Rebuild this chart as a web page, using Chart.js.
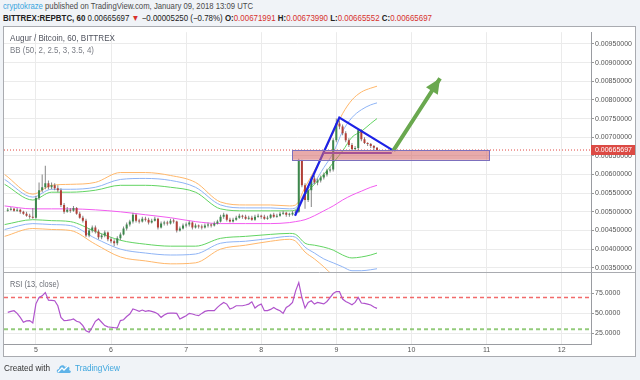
<!DOCTYPE html>
<html><head><meta charset="utf-8">
<script src="https://cdn.jsdelivr.net/npm/chart.js@4.4.1/dist/chart.umd.min.js"></script>
<style>
html,body{margin:0;padding:0}
body{width:640px;height:380px;background:#f0f3f7;position:relative;overflow:hidden;font-family:"Liberation Sans",Arial,sans-serif}
.t{position:absolute;white-space:nowrap;transform-origin:0 50%;line-height:1}
.r{color:#d7322e}
#frame{position:absolute;left:3px;top:26px;width:631px;height:329px;background:#fff;border:1px solid #a9abb0}
#cv{position:absolute;left:4px;top:27px}
</style></head><body>
<div class="t" id="h1" style="left:3px;top:2px;font-size:8.6px;color:#4a4a4a"><span style="color:#3aa6de">cryptokraze</span> published on TradingView.com, January 09, 2018 13:09 UTC</div>
<div class="t" id="h2" style="left:3px;top:13.5px;font-size:8.6px;color:#222"><b>BITTREX:REPBTC, 60</b> 0.00665697 <span class="r">▼</span> −0.00005250 (−0.78%) <b>O:</b><span class="r">0.00671991</span> <b>H:</b><span class="r">0.00673990</span> <b>L:</b><span class="r">0.00665552</span> <b>C:</b><span class="r">0.00665697</span></div>
<div id="frame"></div>
<canvas id="cv" width="631" height="329"></canvas>
<div class="t" id="ttl" style="left:10px;top:34px;font-size:8.6px;color:#50535e">Augur / Bitcoin, 60, BITTREX</div>
<div class="t" id="bb" style="left:10px;top:46px;font-size:8.6px;color:#7a7d85">BB (50, 2, 2.5, 3, 3.5, 4)</div>
<div class="t" id="rsi" style="left:10px;top:280px;font-size:8.6px;color:#6a6d75">RSI (13, close)</div>
<div class="t" id="cw" style="left:4px;top:364px;font-size:8.6px;color:#333">Created with</div>
<svg style="position:absolute;left:56px;top:362px" width="16" height="12" viewBox="0 0 16 12">
<path d="M3 11 C0 11 0 7 3 7 C3 3 8 2 9 5 C11 3 15 5 13 8 C16 9 15 11 13 11 Z" fill="#5fb3e8"/>
<path d="M2 10 L6 6 L8 8 L12 4" stroke="#fff" stroke-width="1.3" fill="none"/>
</svg>
<div class="t" id="tv" style="left:75px;top:364px;font-size:8.6px;color:#3ea6de">TradingView</div>
<script>
// ---------------- data ----------------
const firstHour = 4.625;          // Jan 4, 15:00 — first hourly candle (x in days)
const dayTicks = [5, 6, 7, 8, 9, 10, 11, 12];
const priceTicks = [0.0035, 0.004, 0.0045, 0.005, 0.0055, 0.006, 0.0065, 0.007, 0.0075, 0.008, 0.0085, 0.009, 0.0095];
const rsiTicks = [25, 50, 75];
const rsiLevels = [70, 30];
const lastPrice = 0.00665697;

const opens = [0.005026,0.005053,0.005079,0.005026,0.005053,0.005000,0.004947,0.004895,0.004868,0.004842,
0.005368,0.005579,0.005658,0.005763,0.005658,0.005711,0.005632,0.005579,0.005184,0.005000,
0.005053,0.005026,0.005105,0.004947,0.004842,0.004763,0.004368,0.004500,0.004579,0.004474,
0.004316,0.004368,0.004447,0.004263,0.004211,0.004158,0.004289,0.004395,0.004553,0.004658,
0.004737,0.004921,0.004763,0.004737,0.004816,0.004789,0.004711,0.004763,0.004816,0.004579,
0.004684,0.004711,0.004684,0.004763,0.004737,0.004500,0.004553,0.004632,0.004658,0.004711,
0.004579,0.004632,0.004605,0.004579,0.004632,0.004658,0.004632,0.004684,0.004737,0.004868,
0.004921,0.004789,0.004737,0.004789,0.004842,0.004895,0.004868,0.004816,0.004842,0.004789,
0.004868,0.004895,0.004868,0.004816,0.004842,0.004921,0.004868,0.004895,0.004947,0.004974,
0.004921,0.004925,0.004974,0.005000,0.006368,0.005711,0.005316,0.005579,0.005895,0.005789,
0.005842,0.005921,0.006000,0.006105,0.006132,0.006921,0.007368,0.007289,0.007105,0.006921,
0.006789,0.006684,0.006711,0.007184,0.006947,0.006842,0.006816,0.006763,0.00671991];
const highs = [0.005105,0.005132,0.005105,0.005105,0.005079,0.005026,0.005000,0.004947,0.005105,0.005421,
0.005789,0.006000,0.006237,0.005842,0.005789,0.005763,0.005711,0.005632,0.005237,0.005132,
0.005105,0.005158,0.005132,0.005000,0.004895,0.004816,0.004553,0.004632,0.004632,0.004526,
0.004421,0.004500,0.004474,0.004316,0.004263,0.004342,0.004447,0.004605,0.004711,0.004789,
0.004974,0.004947,0.004816,0.004868,0.004868,0.004842,0.004816,0.004868,0.004842,0.004737,
0.004763,0.004763,0.004816,0.004816,0.004763,0.004605,0.004684,0.004711,0.004763,0.004737,
0.004684,0.004658,0.004658,0.004684,0.004711,0.004684,0.004737,0.004789,0.004921,0.004974,
0.004947,0.004842,0.004842,0.004895,0.004947,0.004921,0.004921,0.004895,0.004895,0.004921,
0.004947,0.004921,0.004921,0.004895,0.004947,0.004974,0.004947,0.005000,0.005026,0.005000,
0.004974,0.005026,0.005053,0.006421,0.006395,0.005763,0.005632,0.005947,0.005974,0.005895,
0.005974,0.006053,0.006158,0.006211,0.006974,0.007500,0.007447,0.007342,0.007158,0.006974,
0.006842,0.006763,0.007237,0.007211,0.007000,0.006868,0.006842,0.006789,0.00673990];
const lows = [0.005000,0.005026,0.005000,0.005000,0.004947,0.004921,0.004868,0.004816,0.004816,0.004816,
0.005316,0.005526,0.005605,0.005605,0.005605,0.005579,0.005526,0.005132,0.004947,0.004974,
0.004974,0.005000,0.004921,0.004816,0.004711,0.004316,0.004316,0.004447,0.004421,0.004263,
0.004263,0.004316,0.004211,0.004158,0.004079,0.004105,0.004237,0.004368,0.004500,0.004605,
0.004684,0.004711,0.004684,0.004711,0.004737,0.004658,0.004684,0.004737,0.004526,0.004553,
0.004632,0.004632,0.004658,0.004684,0.004447,0.004474,0.004526,0.004579,0.004605,0.004526,
0.004553,0.004553,0.004526,0.004553,0.004579,0.004579,0.004605,0.004658,0.004711,0.004816,
0.004737,0.004711,0.004711,0.004763,0.004816,0.004816,0.004789,0.004789,0.004763,0.004763,
0.004842,0.004816,0.004789,0.004789,0.004816,0.004842,0.004842,0.004868,0.004921,0.004868,
0.004868,0.004895,0.004947,0.004974,0.005658,0.005079,0.005263,0.005132,0.005737,0.005711,
0.005789,0.005868,0.005947,0.006053,0.006079,0.006868,0.007211,0.007053,0.006868,0.006737,
0.006632,0.006632,0.006658,0.006895,0.006816,0.006763,0.006711,0.006658,0.00665552];
const closes = [0.005053,0.005079,0.005026,0.005053,0.005000,0.004947,0.004895,0.004868,0.004842,0.005368,
0.005579,0.005658,0.005763,0.005658,0.005711,0.005632,0.005579,0.005184,0.005000,0.005053,
0.005026,0.005105,0.004947,0.004842,0.004763,0.004368,0.004500,0.004579,0.004474,0.004316,
0.004368,0.004447,0.004263,0.004211,0.004158,0.004289,0.004395,0.004553,0.004658,0.004737,
0.004921,0.004763,0.004737,0.004816,0.004789,0.004711,0.004763,0.004816,0.004579,0.004684,
0.004711,0.004684,0.004763,0.004737,0.004500,0.004553,0.004632,0.004658,0.004711,0.004579,
0.004632,0.004605,0.004579,0.004632,0.004658,0.004632,0.004684,0.004737,0.004868,0.004921,
0.004789,0.004737,0.004789,0.004842,0.004895,0.004868,0.004816,0.004842,0.004789,0.004868,
0.004895,0.004868,0.004816,0.004842,0.004921,0.004868,0.004895,0.004947,0.004974,0.004921,
0.004925,0.004974,0.005000,0.006368,0.005711,0.005316,0.005579,0.005895,0.005789,0.005842,
0.005921,0.006000,0.006105,0.006132,0.006921,0.007368,0.007289,0.007105,0.006921,0.006789,
0.006684,0.006711,0.007184,0.006947,0.006842,0.006816,0.006763,0.006720,0.00665697];
const rsiValues = [51.3,52.5,53.4,50,45,38.8,40.5,40.9,38,62,
70,72.1,76.3,66.7,66.5,65.9,59.6,45,40.9,41.2,
41.7,43,40,38.8,34.6,28,26.3,32.5,40,43,
38.8,34.6,33,32.5,32,31.7,40.9,42,46,49.2,
55.5,54.2,52.5,54.2,52.5,53.4,52.5,51.3,49.2,45,
48,50,50.2,50.4,50,43,45,47,50,49.2,
48,47.1,50,52.5,53.4,53.4,53.4,57.5,61,63.8,
61.7,55.5,57,59.6,59.6,59.6,60.5,61.7,64.6,56.7,
60,61.7,53.4,53.4,55,57.5,55,53.4,50,57.5,
60,63.8,78.4,88.8,70,56.7,63.8,65.9,61.7,63.8,
63,62,65,70,75,77.5,77.5,68,65,63,
60.9,63.8,70,63,62.5,61.7,60.5,58,56.3];

// Bollinger band readings, sampled at these candle hours
const bandHours = [-1, 8, 14, 20, 28, 36, 44, 52, 60, 68, 76, 84, 90, 92, 95, 98, 101, 104, 107, 110, 113, 116, 118];
const bbBasis  = [0.005158,0.005079,0.005079,0.005079,0.005053,0.005000,0.004921,0.004842,0.004737,0.004684,0.004684,0.004684,0.004711,0.004737,0.004789,0.004895,0.005026,0.005158,0.005316,0.005447,0.005553,0.005658,0.005711];
const bbUp2    = [0.005737,0.005316,0.005526,0.005526,0.005579,0.005711,0.005711,0.005658,0.005526,0.005079,0.005026,0.005026,0.005026,0.005053,0.005447,0.005737,0.006000,0.006316,0.006632,0.007000,0.007158,0.007368,0.007500];
const bbUp25   = [0.005868,0.005395,0.005605,0.005605,0.005658,0.005868,0.005895,0.005842,0.005658,0.005184,0.005105,0.005105,0.005079,0.005105,0.005526,0.005789,0.006184,0.006579,0.007158,0.007526,0.007737,0.007868,0.007921];
const bbUp3    = [0.006000,0.005474,0.005711,0.005737,0.005789,0.006053,0.006053,0.005974,0.005789,0.005263,0.005184,0.005184,0.005158,0.005184,0.005658,0.006105,0.006579,0.007105,0.007632,0.008000,0.008211,0.008316,0.008368];
const bbLo2    = [0.004658,0.004789,0.004763,0.004737,0.004474,0.004237,0.004132,0.004079,0.004079,0.004289,0.004342,0.004395,0.004421,0.004395,0.004158,0.004105,0.004053,0.003974,0.003842,0.003763,0.003789,0.003842,0.003895];
const bbLo25   = [0.004526,0.004684,0.004658,0.004632,0.004289,0.004000,0.003895,0.003842,0.003868,0.004158,0.004211,0.004289,0.004342,0.004316,0.004053,0.003895,0.003737,0.003632,0.003526,0.003421,0.003421,0.003447,0.003474];
const bbLo3    = [0.004342,0.004553,0.004526,0.004500,0.004132,0.003789,0.003684,0.003605,0.003632,0.004000,0.004105,0.004211,0.004263,0.004211,0.003921,0.003737,0.003526,0.003289,0.003105,0.002947,0.002895,0.002895,0.002895];

// drawings (in day / price units)
const patternDays = [8.450, 9.040, 9.759];
const patternPrices = [0.004895, 0.007526, 0.006640];
const baseLineDays = [8.827, 9.738];
const baseLinePrices = [0.006579, 0.006579];
const arrowDays = [9.759, 10.381];
const arrowPrices = [0.006640, 0.008579];
const zoneDays = [8.410, 11.033];
const zonePrices = [0.006395, 0.006658];

// ---------------- layout ----------------
const xMin = 4.575, xMax = 12.391;
const pMin = 0.003381, pMax = 0.009816;
const rMin = 11.4, rMax = 101.9;

const hourX = i => firstHour + i / 24;
const UP = '#3c874c', DOWN = '#b23f37';
const wickData = highs.map((h, i) => ({x: hourX(i), y: [lows[i], h]}));
const bodyData = opens.map((o, i) => ({x: hourX(i), y: [o, closes[i]]}));
const bodyColors = opens.map((o, i) => closes[i] >= o ? UP : DOWN);
const band = (arr) => bandHours.map((h, k) => ({x: hourX(h), y: arr[k]}));
const lineDs = (data, color, axis, extra) => Object.assign({type: 'line', data, borderColor: color, borderWidth: 1, pointRadius: 0, yAxisID: axis, order: 2, cubicInterpolationMode: 'monotone'}, extra || {});

const F = 'Liberation Sans';
const overlay = {
  id: 'overlay',
  afterDatasetsDraw(chart) {
    const {ctx} = chart; const xs = chart.scales.x, ys = chart.scales.y;
    const X = v => xs.getPixelForValue(v), Y = v => ys.getPixelForValue(v);
    ctx.save();
    // zone rectangle
    const x0 = X(zoneDays[0]), x1 = X(zoneDays[1]), y0 = Y(zonePrices[1]), y1 = Y(zonePrices[0]);
    ctx.fillStyle = 'rgba(214,100,100,0.55)';
    ctx.fillRect(x0, y0, x1 - x0, y1 - y0);
    ctx.strokeStyle = '#7d70bd'; ctx.lineWidth = 1;
    ctx.strokeRect(Math.round(x0) + 0.5, Math.round(y0) + 0.5, Math.round(x1 - x0), Math.round(y1 - y0));
    // arrow head
    const ax = X(arrowDays[0]), ay = Y(arrowPrices[0]), bx = X(arrowDays[1]), by = Y(arrowPrices[1]);
    const ang = Math.atan2(by - ay, bx - ax), L = 15, W = 7;
    ctx.fillStyle = '#6aa84f';
    ctx.beginPath();
    ctx.moveTo(bx, by);
    ctx.lineTo(bx - L * Math.cos(ang) + W * Math.sin(ang), by - L * Math.sin(ang) - W * Math.cos(ang));
    ctx.lineTo(bx - L * Math.cos(ang) - W * Math.sin(ang), by - L * Math.sin(ang) + W * Math.cos(ang));
    ctx.closePath(); ctx.fill();
    ctx.restore();
  },
  afterDraw(chart) {
    const {ctx} = chart; const ys = chart.scales.y;
    ctx.save();
    // pane separator
    ctx.strokeStyle = '#a9abb0'; ctx.lineWidth = 1;
    ctx.beginPath(); ctx.moveTo(0, Math.round(ys.bottom) + 0.5); ctx.lineTo(chart.width, Math.round(ys.bottom) + 0.5); ctx.stroke();
    // last price label
    const y = Math.round(ys.getPixelForValue(lastPrice));
    ctx.fillStyle = '#dc4a44';
    ctx.fillRect(ys.left, y - 5, chart.width - ys.left, 10);
    ctx.fillStyle = '#fff'; ctx.font = '7px "' + F + '"'; ctx.textBaseline = 'middle';
    ctx.fillText(lastPrice.toFixed(8), ys.left + 4, y + 0.5);
    ctx.restore();
  }
};

new Chart(document.getElementById('cv'), {
  type: 'bar',
  data: {datasets: [
    {type: 'bar', data: wickData, backgroundColor: '#858585', maxBarThickness: 1, grouped: false, yAxisID: 'y', order: 1, borderWidth: 0},
    {type: 'bar', data: bodyData, backgroundColor: bodyColors, maxBarThickness: 2, grouped: false, yAxisID: 'y', order: 0, borderWidth: 0, minBarLength: 1},
    lineDs(band(bbUp3), '#ffb76b', 'y'),
    lineDs(band(bbUp25), '#8fb4f5', 'y'),
    lineDs(band(bbUp2), '#62d462', 'y'),
    lineDs(band(bbBasis), '#f25cf0', 'y'),
    lineDs(band(bbLo2), '#62d462', 'y'),
    lineDs(band(bbLo25), '#8fb4f5', 'y'),
    lineDs(band(bbLo3), '#ffb76b', 'y'),
    lineDs([{x: xMin, y: lastPrice}, {x: xMax, y: lastPrice}], '#e0453f', 'y', {borderDash: [1, 2], order: -1}),
    lineDs(patternDays.map((d, k) => ({x: d, y: patternPrices[k]})), '#1d22e6', 'y', {borderWidth: 2.2, order: -2, cubicInterpolationMode: 'default'}),
    lineDs(baseLineDays.map((d, k) => ({x: d, y: baseLinePrices[k]})), '#6a3fd0', 'y', {borderWidth: 2, order: -3}),
    lineDs(arrowDays.map((d, k) => ({x: d, y: arrowPrices[k]})), '#6aa84f', 'y', {borderWidth: 4, order: -3}),
    lineDs(rsiValues.map((v, i) => ({x: hourX(i), y: v})), '#b054cc', 'yRsi', {borderWidth: 1.2, order: 0, cubicInterpolationMode: 'default'}),
    lineDs([{x: xMin, y: rsiLevels[0]}, {x: xMax, y: rsiLevels[0]}], 'rgba(240,80,80,0.85)', 'yRsi', {borderDash: [4, 3], borderWidth: 1.5, order: 1}),
    lineDs([{x: xMin, y: rsiLevels[1]}, {x: xMax, y: rsiLevels[1]}], 'rgba(120,190,90,0.8)', 'yRsi', {borderDash: [4, 3], borderWidth: 2, order: 1})
  ]},
  options: {
    responsive: false, animation: false, events: [],
    layout: {padding: 0},
    plugins: {legend: {display: false}, tooltip: {enabled: false}},
    scales: {
      x: {type: 'linear', axis: 'x', min: xMin, max: xMax, offset: false, position: 'bottom',
        afterFit(s) { s.height = 12; },
        afterBuildTicks(s) { s.ticks = dayTicks.map(v => ({value: v})); },
        grid: {color: '#ebebeb', offset: false, drawTicks: false},
        border: {color: '#9a9ca1'},
        ticks: {font: {size: 7, family: F}, color: '#555', padding: 2, maxRotation: 0, autoSkip: false, callback: v => String(v)}},
      y: {type: 'linear', axis: 'y', position: 'right', stack: 'pane', stackWeight: 244, min: pMin, max: pMax,
        afterFit(s) { s.width = 44; },
        afterBuildTicks(s) { s.ticks = priceTicks.map(v => ({value: v})); },
        grid: {color: '#ebebeb', tickLength: 3, tickColor: '#999'},
        border: {color: '#9a9ca1'},
        ticks: {font: {size: 7, family: F}, color: '#555', padding: 1, autoSkip: false, callback: v => v.toFixed(8)}},
      yRsi: {type: 'linear', axis: 'y', position: 'right', stack: 'pane', stackWeight: 73, min: rMin, max: rMax,
        afterFit(s) { s.width = 44; },
        afterBuildTicks(s) { s.ticks = rsiTicks.map(v => ({value: v})); },
        grid: {color: '#ebebeb', tickLength: 3, tickColor: '#999'},
        border: {color: '#9a9ca1'},
        ticks: {font: {size: 7, family: F}, color: '#555', padding: 1, autoSkip: false, callback: v => v.toFixed(4)}}
    }
  },
  plugins: [overlay]
});

function fit(id, w) {
  const el = document.getElementById(id);
  const r = el.getBoundingClientRect().width;
  el.style.transform = 'scaleX(' + (w / r) + ')';
}
fit('h1', 250); fit('h2', 429); fit('ttl', 105); fit('bb', 84); fit('rsi', 49); fit('cw', 46); fit('tv', 45);
</script>
</body></html>
